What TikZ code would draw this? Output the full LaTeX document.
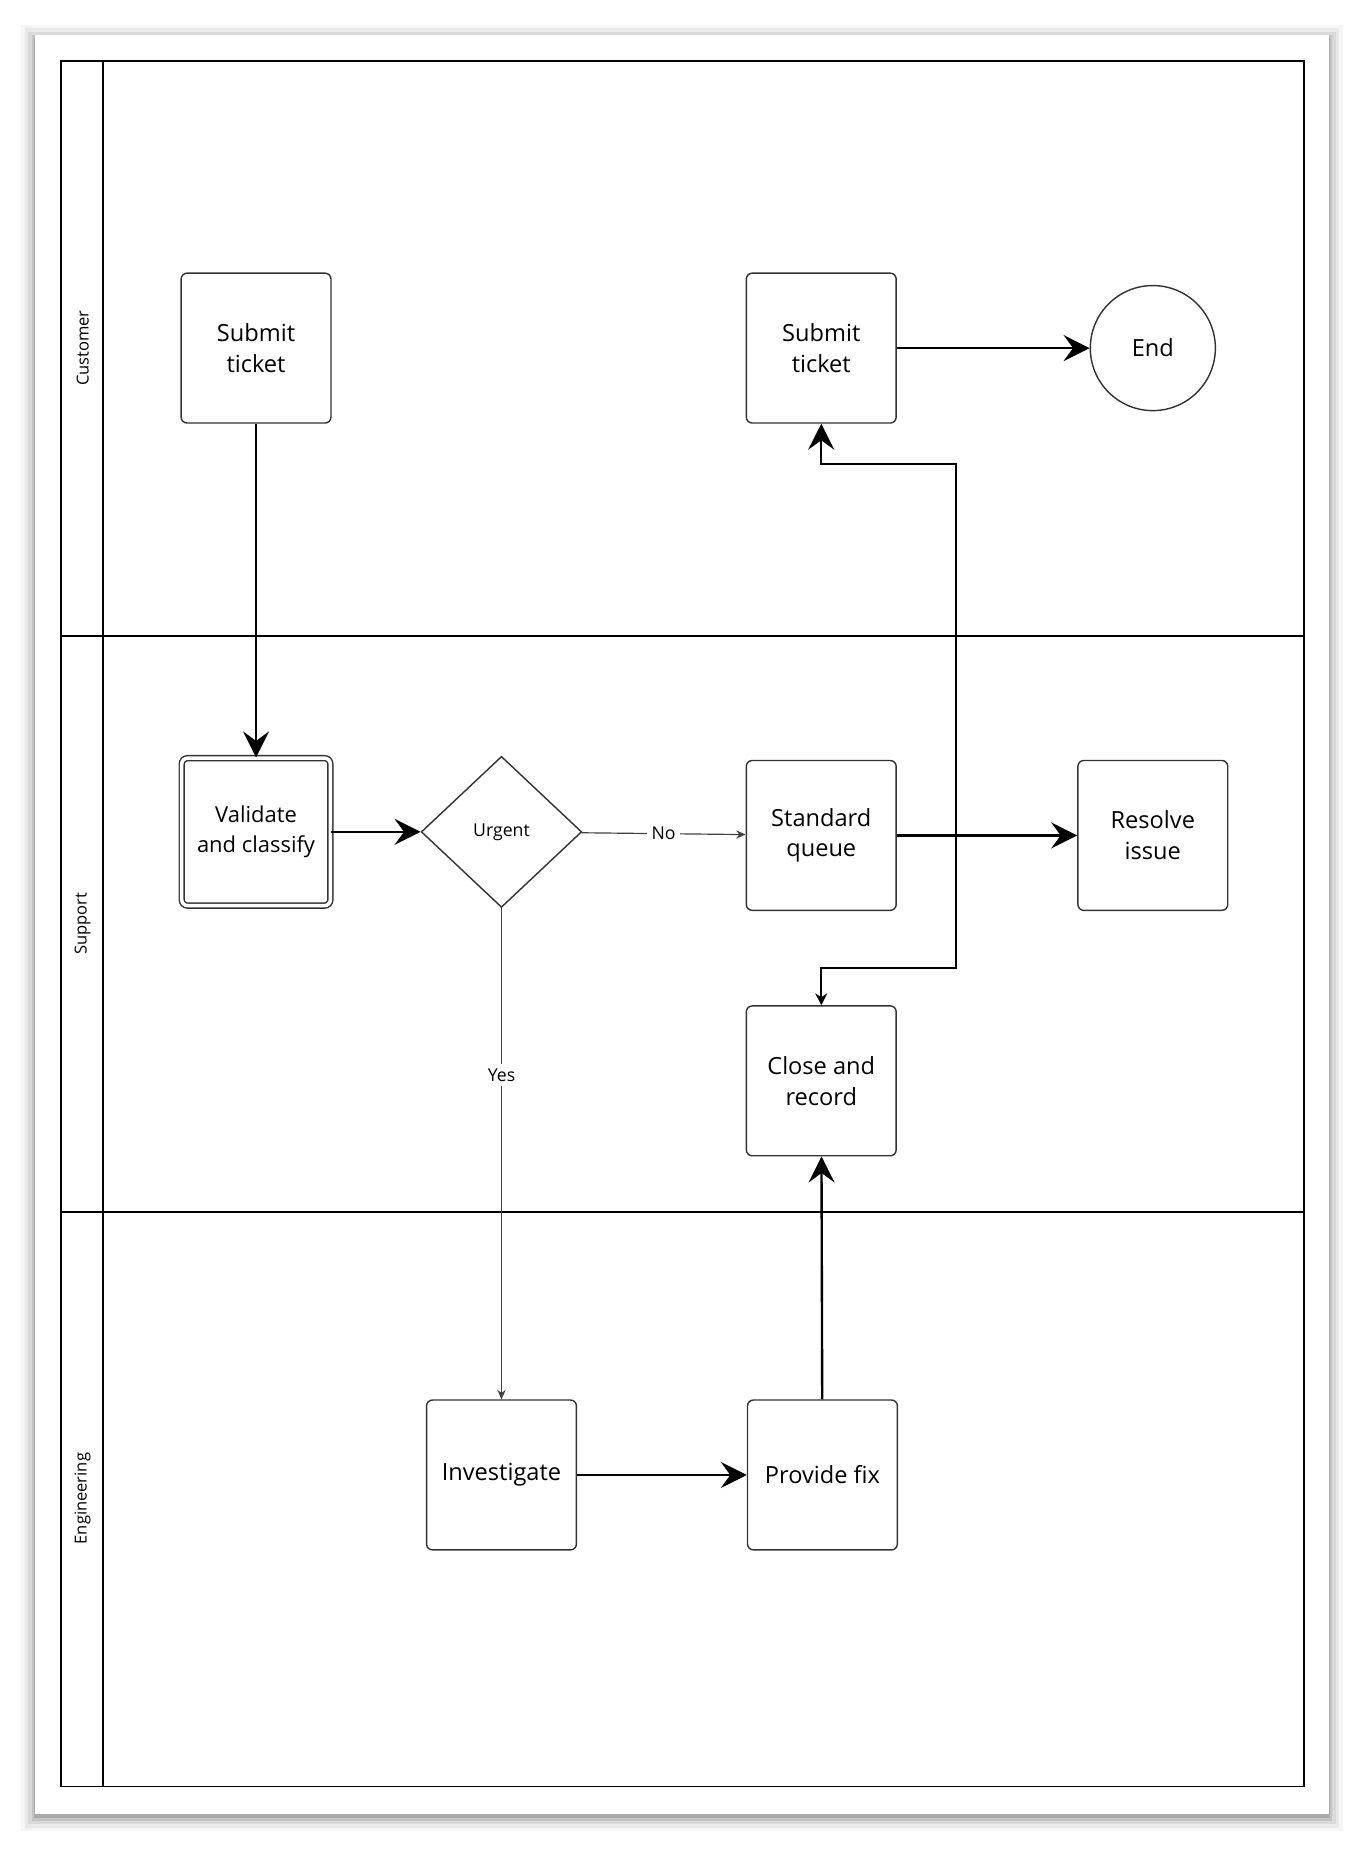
\documentclass[tikz,border=0pt]{standalone}
\usepackage{fontspec}
\setmainfont{Open Sans}
\usetikzlibrary{arrows.meta,shapes.geometric}
\tikzset{
  box/.style={draw=black!80,line width=0.6pt,rounded corners=2.5pt,minimum width=63.5pt,minimum height=63.5pt,align=center,font=\fontsize{10}{13}\selectfont,fill=white},
  thick arrow/.style={draw=black,line width=1pt,-{Stealth[length=11pt,width=11pt,inset=4pt]}},
  thin arrow/.style={draw=black!75,line width=0.5pt,-{Stealth[length=4pt,width=3.5pt]}},
  lane/.style={font=\fontsize{7}{8}\selectfont,rotate=90},
  lbl/.style={fill=white,font=\fontsize{7.5}{9}\selectfont,inner sep=2pt}
}
\begin{document}
\begin{tikzpicture}[x=0.5pt,y=-0.5pt]
\useasboundingbox (0,0) rectangle (1156,1567);
% shadow
\foreach \o/\op in {12/0.04,9/0.05,6/0.07,3/0.1,1/0.12}{
  \fill[black,opacity=\op] (30-\o,30-\o+3) rectangle (1126+\o,1537+\o+3);}
\fill[white] (30,30) rectangle (1126,1537);
% pool
\draw[line width=0.8pt] (52,52) rectangle (1105,1514);
\draw[line width=0.8pt] (87,52) -- (87,1514);
\draw[line width=0.8pt] (52,539) -- (1105,539);
\draw[line width=0.8pt] (52,1027) -- (1105,1027);
\node[lane] (l1) at (70,295) {Customer};
\node[lane] (l2) at (70,783) {Support};
\node[lane] (l3) at (70,1270) {Engineering};
% nodes
\node[box] (s1) at (217,295) {Submit\\ticket};
\node[box] (s2) at (696,295) {Submit\\ticket};
\node[draw=black!80,line width=0.6pt,circle,minimum size=53pt,font=\fontsize{10}{13}\selectfont] (end) at (977,295) {End};
\node[box,double,double distance=1.5pt,minimum width=63pt,minimum height=62.5pt,font=\fontsize{9.3}{12.5}\selectfont] (val) at (217,705) {Validate\\and classify};
\node[draw=black!80,line width=0.6pt,diamond,minimum width=68pt,minimum height=64pt,inner sep=0pt,font=\fontsize{7.5}{9}\selectfont] (urg) at (425,705) {Urgent};
\node[box] (sq) at (696,708) {Standard\\queue};
\node[box] (res) at (977,708) {Resolve\\issue};
\node[box] (cl) at (696,916) {Close and\\record};
\node[box] (inv) at (425,1250) {Investigate};
\node[box] (pf) at (697,1250) {Provide fix};
% edges
\draw[thick arrow] (s1) -- (val);
\draw[thick arrow] (val) -- (urg);
\draw[thin arrow] (urg) -- node[lbl]{No} (sq);
\draw[thin arrow] (urg) -- node[lbl,pos=0.34]{Yes} (inv);
\draw[thick arrow] (s2) -- (end);
\draw[thick arrow] (sq) -- (res);
\draw[thick arrow] (inv) -- (pf);
\draw[thick arrow] (pf) -- (cl);
\draw[line width=0.8pt,{Stealth[length=5pt,width=5pt]}-{Stealth[length=11pt,width=11pt,inset=4pt]}] (cl.north) -- (696,820) -- (810,820) -- (810,393) -- (696,393) -- (s2.south);
\end{tikzpicture}
\end{document}
